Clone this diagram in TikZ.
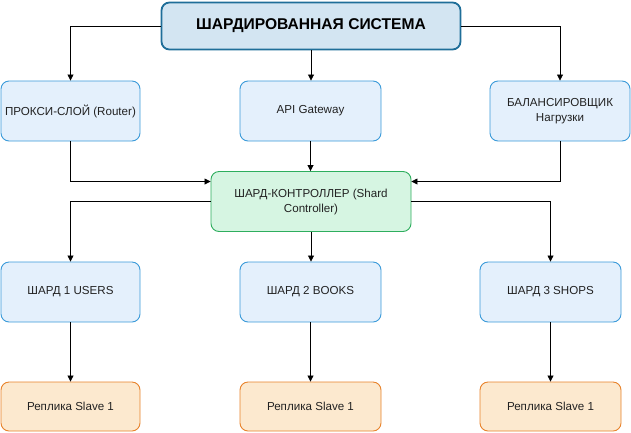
\documentclass[tikz,border=0pt]{standalone}
\usepackage{fontspec}
\setmainfont{Liberation Sans}
\usetikzlibrary{arrows.meta,calc}
\definecolor{blueFill}{HTML}{E4F0FC}
\definecolor{blueLine}{HTML}{3A9AD9}
\definecolor{titleFill}{HTML}{D3E5F2}
\definecolor{titleLine}{HTML}{1F6E99}
\definecolor{greenFill}{HTML}{D6F5E2}
\definecolor{greenLine}{HTML}{2EAE5E}
\definecolor{orangeFill}{HTML}{FCE9CF}
\definecolor{orangeLine}{HTML}{E8822A}
\definecolor{txt}{HTML}{222222}
\begin{document}
\begin{tikzpicture}[x=1pt,y=-1pt,
  font=\fontsize{11.6}{15}\selectfont,
  box/.style={draw=blueLine, fill=blueFill, line width=0.9pt, rounded corners=8pt,
    minimum width=139pt, minimum height=60pt, align=center, text=txt, inner sep=1pt},
  titlebox/.style={draw=titleLine, fill=titleFill, line width=1.8pt, rounded corners=8pt,
    minimum width=299pt, minimum height=47pt, align=center, text=black,
    font=\fontsize{15.6}{18}\selectfont\bfseries},
  ctrlbox/.style={box, draw=greenLine, fill=greenFill, minimum width=200pt},
  repbox/.style={box, draw=orangeLine, fill=orangeFill, minimum height=49pt},
  arr/.style={draw=black, line width=0.8pt, -{Triangle[width=6pt,length=6pt]}}
]
\useasboundingbox (0,0) rectangle (631,432);

\node[titlebox] (title) at (311,26) {ШАРДИРОВАННАЯ СИСТЕМА};

\node[box] (proxy) at (70.5,111) {ПРОКСИ-СЛОЙ (Router)};
\node[box, minimum width=141pt] (api) at (310.5,111) {API Gateway};
\node[box, minimum width=140pt] (bal) at (560,111) {БАЛАНСИРОВЩИК\\Нагрузки};

\node[ctrlbox] (ctrl) at (311,201.5) {ШАРД-КОНТРОЛЛЕР (Shard\\Controller)};

\node[box] (s1) at (70.5,292) {ШАРД 1 USERS};
\node[box, minimum width=141pt] (s2) at (310.5,292) {ШАРД 2 BOOKS};
\node[box, minimum width=141pt] (s3) at (550.5,292) {ШАРД 3 SHOPS};

\node[repbox] (r1) at (70.5,406.5) {Реплика Slave 1};
\node[repbox, minimum width=141pt] (r2) at (310.5,406.5) {Реплика Slave 1};
\node[repbox, minimum width=141pt] (r3) at (550.5,406.5) {Реплика Slave 1};

\coordinate (cl) at ($(ctrl.west)+(0,-20)$);
\coordinate (cr) at ($(ctrl.east)+(0,-20)$);

\draw[arr] (title.west) -| (proxy.north);
\draw[arr] (title.south) -- (title.south |- api.north);
\draw[arr] (title.east) -| (bal.north);

\draw[arr] (proxy.south) |- (cl);
\draw[arr] (api.south) -- (api.south |- ctrl.north);
\draw[arr] (bal.south) |- (cr);

\draw[arr] (ctrl.west) -| (s1.north);
\draw[arr] (ctrl.south) -- (ctrl.south |- s2.north);
\draw[arr] (ctrl.east) -| (s3.north);

\draw[arr] (s1.south) -- (r1.north);
\draw[arr] (s2.south) -- (r2.north);
\draw[arr] (s3.south) -- (r3.north);
\end{tikzpicture}
\end{document}
